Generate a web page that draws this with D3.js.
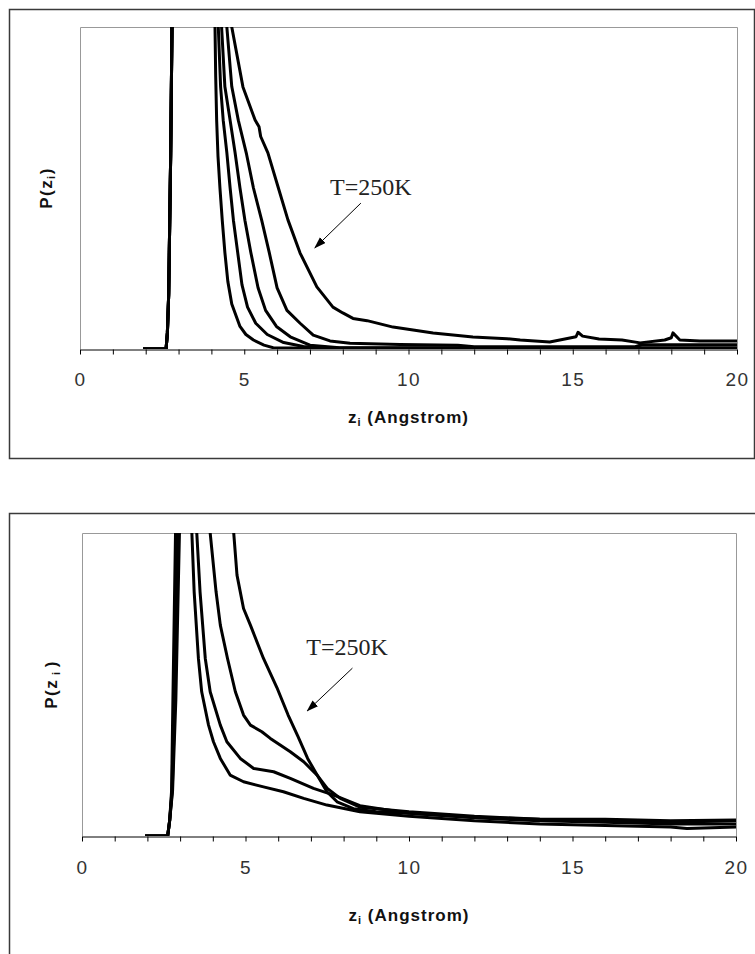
<!DOCTYPE html>
<html>
<head>
<meta charset="utf-8">
<script src="https://cdn.jsdelivr.net/npm/d3@7"></script>
<style>
  body { margin: 0; background: #fff; }
  svg { display: block; }
</style>
</head>
<body>
<div id="chart"></div>
<script>
// x axis ticks (z in Angstrom)
const minorTicks = [0,1,2,3,4,5,6,7,8,9,10,11,12,13,14,15,16,17,18,19,20];
const majorTicks = [0,5,10,15,20];

// top panel: five temperatures, [z, P(z)] (P scaled so axis top = 1)
const topT1 = [[1.92,0],[2.62,0],[2.66,0.05],[2.70,0.17],[2.76,0.6],[2.80,1.0],[2.86,1.6],[3.2,2.5],[3.8,2.0],
  [4.0,1.3],[4.11,1.0],[4.13,0.85],[4.16,0.71],[4.2,0.6],[4.26,0.5],[4.33,0.4],[4.41,0.3],[4.5,0.21],[4.62,0.14],
  [4.87,0.07],[5.05,0.045],[5.28,0.028],[5.6,0.012],[5.88,0.004],[7,0.002],[20,0.002]];
const topT2 = [[1.92,0],[2.62,0],[2.66,0.05],[2.70,0.17],[2.76,0.6],[2.80,1.0],[2.86,1.6],[3.2,2.5],[3.8,2.0],
  [4.1,1.3],[4.21,1.0],[4.28,0.815],[4.36,0.71],[4.47,0.61],[4.57,0.5],[4.67,0.4],[4.8,0.3],[4.93,0.2],[5.1,0.13],
  [5.35,0.08],[5.7,0.045],[6.2,0.02],[6.8,0.008],[7.4,0.003],[20,0.002]];
const topT3 = [[1.92,0],[2.62,0],[2.66,0.05],[2.70,0.17],[2.76,0.6],[2.80,1.0],[2.86,1.6],[3.2,2.5],[3.8,2.0],
  [4.2,1.3],[4.31,1.0],[4.41,0.815],[4.57,0.71],[4.72,0.61],[4.87,0.5],[5.02,0.4],[5.2,0.3],[5.42,0.19],[5.65,0.12],
  [5.98,0.07],[6.4,0.038],[7.0,0.012],[7.9,0.004],[20,0.003]];
const topT4 = [[1.92,0],[2.62,0],[2.66,0.05],[2.70,0.17],[2.76,0.6],[2.80,1.0],[2.86,1.6],[3.2,2.5],[3.8,2.0],
  [4.35,1.3],[4.47,1.0],[4.62,0.815],[4.82,0.71],[5.07,0.605],[5.28,0.5],[5.53,0.4],[5.76,0.3],[6.0,0.19],[6.3,0.12],
  [6.7,0.08],[7.1,0.043],[7.61,0.025],[8.22,0.018],[9.74,0.014],[11.5,0.012],[12,0.007],[16.9,0.007],[17.1,0.013],[20,0.013]];
const topT250 = [[1.92,0],[2.62,0],[2.66,0.05],[2.70,0.17],[2.76,0.6],[2.80,1.0],[2.86,1.6],[3.2,2.5],[3.8,2.0],
  [4.5,1.3],[4.62,1.0],[4.96,0.814],[5.33,0.711],[5.45,0.69],[5.5,0.66],[5.72,0.609],[6.03,0.503],[6.33,0.401],
  [6.7,0.298],[7.21,0.193],[7.7,0.13],[8.0,0.112],[8.31,0.095],[8.74,0.088],[9.53,0.068],[10.75,0.05],[11.96,0.037],
  [13.0,0.032],[13.4,0.028],[14.3,0.022],[14.76,0.031],[15.1,0.038],[15.16,0.052],[15.3,0.04],[15.8,0.031],[16.5,0.028],
  [17.05,0.019],[17.8,0.028],[18.0,0.035],[18.05,0.05],[18.26,0.028],[18.87,0.025],[20,0.025]];

// bottom panel: four temperatures
const botT1 = [[1.93,0],[2.62,0],[2.68,0.05],[2.74,0.15],[2.78,0.45],[2.86,1.0],[2.92,1.6],[3.2,1.5],
  [3.3,1.1],[3.36,1.0],[3.43,0.806],[3.56,0.586],[3.66,0.476],[3.87,0.366],[4.02,0.311],[4.23,0.256],[4.53,0.201],
  [4.94,0.179],[5.55,0.162],[6.16,0.146],[6.78,0.124],[7.49,0.102],[8.5,0.08],[10,0.065],[12,0.05],[14,0.04],
  [16,0.035],[18,0.03],[18.5,0.025],[20,0.03]];
const botT2 = [[1.93,0],[2.62,0],[2.68,0.05],[2.75,0.15],[2.81,0.45],[2.9,1.0],[2.96,1.6],[3.3,1.5],
  [3.45,1.1],[3.51,1.0],[3.61,0.806],[3.77,0.586],[3.92,0.476],[4.23,0.366],[4.43,0.311],[4.84,0.256],[5.25,0.223],
  [5.86,0.212],[6.37,0.19],[7.08,0.157],[7.7,0.135],[8.5,0.1],[10,0.075],[12,0.06],[14,0.05],[16,0.045],[18,0.04],[20,0.04]];
const botT3 = [[1.93,0],[2.62,0],[2.68,0.05],[2.76,0.15],[2.84,0.45],[2.94,1.0],[3.0,1.6],[3.6,1.6],
  [3.85,1.1],[3.92,1.0],[4.1,0.806],[4.23,0.696],[4.45,0.586],[4.69,0.476],[4.94,0.399],[5.15,0.366],[5.5,0.344],
  [5.76,0.322],[6.06,0.3],[6.37,0.278],[6.78,0.245],[7.19,0.201],[7.5,0.157],[7.9,0.124],[8.5,0.095],[10,0.08],
  [12,0.065],[14,0.055],[16,0.05],[18,0.045],[20,0.05]];
const botT250 = [[1.93,0],[2.62,0],[2.68,0.05],[2.77,0.15],[2.87,0.45],[2.98,1.0],[3.05,1.6],[4.0,1.8],
  [4.55,1.1],[4.64,1.0],[4.74,0.861],[4.94,0.751],[5.15,0.696],[5.55,0.586],[5.96,0.49],[6.3,0.4],[6.6,0.33],
  [6.9,0.256],[7.19,0.201],[7.49,0.146],[7.8,0.113],[8.3,0.09],[9,0.08],[10,0.075],[12,0.062],[14,0.055],
  [16,0.055],[18,0.05],[20,0.053]];

const width = 755, height = 954;

const svg = d3.select("#chart").append("svg")
  .attr("width", width)
  .attr("height", height);

svg.append("defs").append("marker")
  .attr("id", "arrow")
  .attr("markerUnits", "userSpaceOnUse")
  .attr("markerWidth", 12).attr("markerHeight", 10)
  .attr("refX", 11).attr("refY", 4)
  .attr("orient", "auto")
  .append("path")
  .attr("d", "M0,0L12,4L0,8Z")
  .attr("fill", "#000");

const panels = [
  { id: "top", box: [9, 9, 745, 449], plot: { left: 80, right: 737, top: 27, bottom: 349 },
    curves: [topT1, topT2, topT3, topT4, topT250], tickPad: 18, titleY: 423, ylabX: 46, ylabSpace: false,
    note: { text: [7.61, 0.478], from: [8.55, 0.453], to: [7.15, 0.314] } },
  { id: "bottom", box: [9, 513, 760, 460], plot: { left: 82, right: 736, top: 533, bottom: 836 },
    curves: [botT1, botT2, botT3, botT250], tickPad: 19, titleY: 921, ylabX: 51, ylabSpace: true,
    note: { text: [6.86, 0.597], from: [8.27, 0.554], to: [6.89, 0.413] } }
];

panels.forEach(drawPanel);

function drawPanel(p) {
  const pl = p.plot;

  // outer frame
  svg.append("rect")
    .attr("x", p.box[0] + 0.5).attr("y", p.box[1] + 0.5)
    .attr("width", p.box[2]).attr("height", p.box[3])
    .attr("fill", "none").attr("stroke", "#3a3a3a").attr("stroke-width", 1.5);

  const x = d3.scaleLinear().domain([0, 20]).range([pl.left, pl.right]);
  const y = d3.scaleLinear().domain([0, 1]).range([pl.bottom, pl.top]);

  // plot area frame (top/right light grey, left grey)
  svg.append("path")
    .attr("d", `M${pl.left + 0.5},${pl.bottom}V${pl.top + 0.5}H${pl.right + 0.5}V${pl.bottom}`)
    .attr("fill", "none").attr("stroke", "#999").attr("stroke-width", 1);

  svg.append("clipPath").attr("id", "clip-" + p.id)
    .append("rect")
    .attr("x", pl.left).attr("y", pl.top)
    .attr("width", pl.right - pl.left).attr("height", pl.bottom - pl.top);

  const line = d3.line().x(d => x(d[0])).y(d => y(d[1]));

  svg.append("g").attr("clip-path", `url(#clip-${p.id})`)
    .selectAll("path")
    .data(p.curves)
    .enter()
    .append("path")
    .attr("d", line)
    .attr("fill", "none")
    .attr("stroke", "#000")
    .attr("stroke-width", 3)
    .attr("stroke-linejoin", "round");

  // x axis
  const ax = svg.append("g")
    .attr("transform", `translate(0,${pl.bottom + 0.5})`)
    .call(d3.axisBottom(x)
      .tickValues(minorTicks)
      .tickSize(5)
      .tickSizeOuter(0)
      .tickPadding(p.tickPad)
      .tickFormat(d => majorTicks.includes(d) ? d : ""));
  ax.attr("font-family", "'Liberation Sans', Arial, sans-serif").attr("font-size", 19);
  ax.select(".domain").attr("stroke", "#000");
  ax.selectAll(".tick line").attr("stroke", "#000");
  ax.selectAll(".tick text").attr("fill", "#333").attr("letter-spacing", 1.5);

  // x axis title
  const xt = svg.append("text")
    .attr("x", (pl.left + pl.right) / 2)
    .attr("y", p.titleY)
    .attr("text-anchor", "middle")
    .attr("font-family", "'Liberation Sans', Arial, sans-serif")
    .attr("font-weight", "bold")
    .attr("font-size", 17)
    .attr("letter-spacing", 1)
    .attr("fill", "#111");
  xt.append("tspan").text("z");
  xt.append("tspan").attr("font-size", 11).attr("dy", 3).text("i");
  xt.append("tspan").attr("dy", -3).text(" (Angstrom)");

  // y axis title
  const yt = svg.append("text")
    .attr("transform", `translate(${p.ylabX},${(pl.top + pl.bottom) / 2}) rotate(-90)`)
    .attr("text-anchor", "middle")
    .attr("dy", "0.35em")
    .attr("font-family", "'Liberation Sans', Arial, sans-serif")
    .attr("font-weight", "bold")
    .attr("font-size", 17)
    .attr("letter-spacing", 1.5)
    .attr("fill", "#111");
  yt.append("tspan").text("P(z");
  yt.append("tspan").attr("font-size", 11).attr("dy", 3).attr("dx", p.ylabSpace ? 4 : 0).text("i");
  yt.append("tspan").attr("dy", -3).attr("dx", p.ylabSpace ? 3 : 0).text(")");

  // annotation
  svg.append("text")
    .attr("x", x(p.note.text[0]))
    .attr("y", y(p.note.text[1]))
    .attr("font-family", "'Liberation Serif', 'Times New Roman', serif")
    .attr("font-size", 24)
    .attr("fill", "#222")
    .text("T=250K");

  svg.append("line")
    .attr("x1", x(p.note.from[0])).attr("y1", y(p.note.from[1]))
    .attr("x2", x(p.note.to[0])).attr("y2", y(p.note.to[1]))
    .attr("stroke", "#000").attr("stroke-width", 1)
    .attr("marker-end", "url(#arrow)");
}
</script>
</body>
</html>
